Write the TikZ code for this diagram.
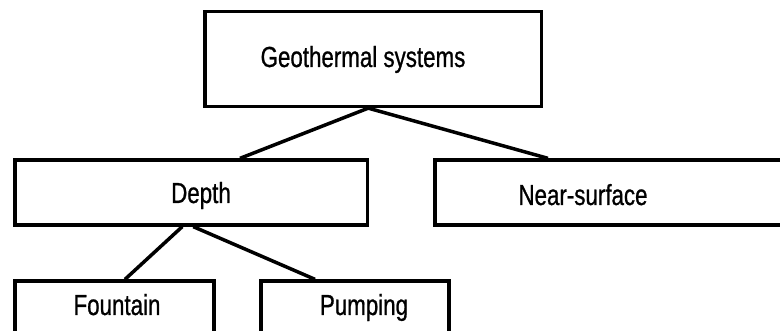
\documentclass[tikz,border=0pt]{standalone}
\usepackage{fontspec}
\setmainfont{Liberation Sans}[FakeStretch=0.77, FakeBold=0.8]
\begin{document}
\begin{tikzpicture}[x=1pt,y=-1pt,
  box/.style={draw=black, line width=3.3pt, inner sep=0pt, fill=white},
  link/.style={draw=black, line width=3.5pt},
  lbl/.style={font=\fontsize{29}{31}\selectfont, inner sep=0pt,
              text height=21pt, text depth=0pt}]
  \useasboundingbox (0,0) rectangle (780,331);

  % tree of boxes
  \node[box, minimum width=336.5pt, minimum height=95pt,
        label={[lbl, xshift=-10.25pt, yshift=2.5pt]center:Geothermal systems}]
        (geo) at (373.25,59) {};
  \node[box, minimum width=352.5pt, minimum height=65pt,
        label={[lbl, xshift=9.75pt, yshift=0pt]center:Depth}]
        (depth) at (191.25,192.5) {};
  \node[box, minimum width=395pt, minimum height=65pt,
        label={[lbl, xshift=-49.5pt, yshift=-2pt]center:Near-surface}]
        (near) at (632.5,192.5) {};
  \node[box, minimum width=199pt, minimum height=70pt,
        label={[lbl, xshift=2.5pt, yshift=11.5pt]center:Fountain}]
        (fountain) at (114.5,316) {};
  \node[box, minimum width=188pt, minimum height=70pt,
        label={[lbl, xshift=9pt, yshift=11.5pt]center:Pumping}]
        (pumping) at (355,316) {};

  % connectors
  \draw[link] ([xshift=-5pt]geo.south) -- ([xshift=48.75pt]depth.north);
  \draw[link] ([xshift=-5pt]geo.south) -- ([xshift=-84.5pt]near.north);
  \draw[link] ([xshift=-9pt]depth.south) -- ([xshift=10.5pt]fountain.north);
  \draw[link] ([xshift=2pt]depth.south) -- ([xshift=-40pt]pumping.north);
\end{tikzpicture}
\end{document}
